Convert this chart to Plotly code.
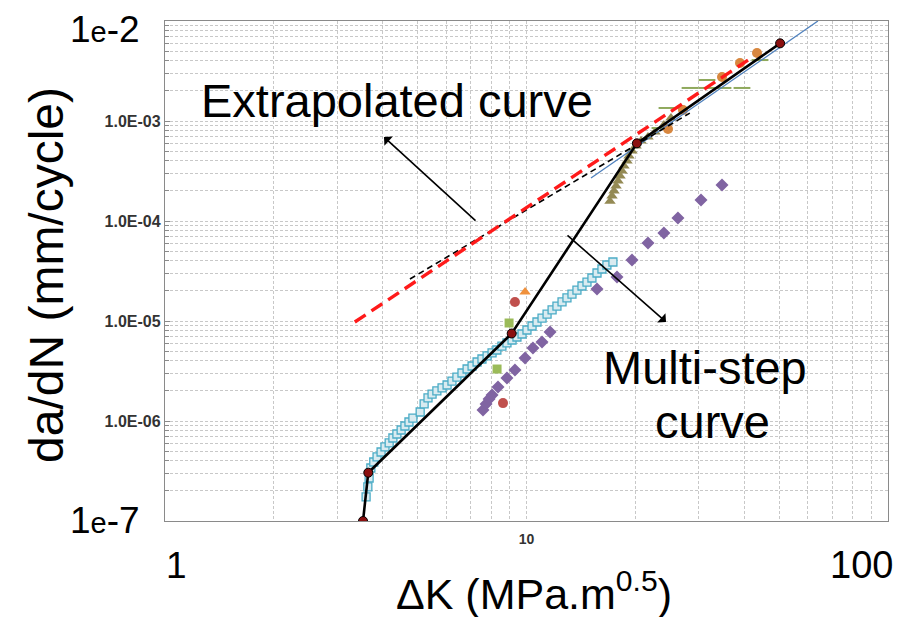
import plotly.graph_objects as go

# ---------------- data ----------------
multi_x = [3.53, 3.65, 9.1, 20.2, 50.3]
multi_y = [1e-7, 3.04e-7, 7.5e-6, 5.98e-4, 5.98e-3]

extrap_red_x = [3.35, 41.0]
extrap_red_y = [9.77e-6, 4.07e-3]

extrap_black_x = [4.76, 28.3]
extrap_black_y = [2.63e-5, 1.20e-3]

blue_x = [15.08, 64.0]
blue_y = [2.69e-4, 1.0e-2]

teal_x = [3.60, 3.64, 3.67, 3.71, 3.78, 3.86, 3.96, 4.06, 4.17, 4.27, 4.38, 4.50,
          4.61, 4.73, 4.85, 5.08, 5.21, 5.34, 5.48, 5.65, 5.84, 6.03, 6.22, 6.42,
          6.63, 6.85, 7.07, 7.30, 7.53, 7.78, 8.03, 8.28, 8.55, 8.83, 9.12, 9.41,
          9.72, 10.03, 10.36, 10.69, 11.04, 11.40, 11.77, 12.14, 12.54, 12.94,
          13.36, 13.79, 14.24, 14.70, 15.17, 15.67, 16.17, 16.69, 17.34]
teal_y = [1.74e-7, 2.19e-7, 2.69e-7, 3.39e-7, 3.89e-7, 4.37e-7, 4.90e-7, 5.50e-7,
          6.03e-7, 6.76e-7, 7.41e-7, 8.13e-7, 8.91e-7, 9.77e-7, 1.07e-6, 1.23e-6,
          1.48e-6, 1.70e-6, 1.86e-6, 2.00e-6, 2.14e-6, 2.29e-6, 2.51e-6, 2.75e-6,
          3.02e-6, 3.31e-6, 3.55e-6, 3.89e-6, 4.17e-6, 4.47e-6, 4.79e-6, 5.13e-6,
          5.62e-6, 6.03e-6, 6.46e-6, 6.92e-6, 7.41e-6, 8.13e-6, 8.91e-6, 9.77e-6,
          1.07e-5, 1.17e-5, 1.29e-5, 1.41e-5, 1.55e-5, 1.70e-5, 1.86e-5, 2.04e-5,
          2.24e-5, 2.45e-5, 2.69e-5, 3.02e-5, 3.31e-5, 3.63e-5, 3.89e-5]

purple_x = [7.58, 7.73, 7.88, 8.03, 8.34, 8.83, 9.29, 9.91, 10.42, 11.04, 11.62,
            15.67, 17.80, 19.58, 21.68, 23.99, 26.24, 30.39, 34.74]
purple_y = [1.29e-6, 1.48e-6, 1.66e-6, 1.82e-6, 2.19e-6, 2.69e-6, 3.24e-6, 4.27e-6,
            5.37e-6, 6.17e-6, 7.76e-6, 2.09e-5, 2.75e-5, 4.07e-5, 6.03e-5, 7.59e-5,
            1.07e-4, 1.62e-4, 2.29e-4]

olive_x = [17.02, 17.24, 17.46, 17.69, 17.92, 18.15, 18.37, 18.61, 18.97, 19.21,
           19.58, 20.09, 20.74, 21.68, 22.68, 23.99, 25.10]
olive_y = [1.58e-4, 1.78e-4, 2.00e-4, 2.24e-4, 2.51e-4, 2.82e-4, 3.16e-4, 3.55e-4,
           3.98e-4, 4.47e-4, 5.01e-4, 5.62e-4, 6.31e-4, 6.92e-4, 7.76e-4, 9.12e-4,
           1.07e-3]

orange_x = [24.63, 27.10, 34.74, 38.96, 43.42]
orange_y = [8.32e-4, 1.29e-3, 2.75e-3, 3.80e-3, 4.79e-3]

orange_tri_x = [9.91]
orange_tri_y = [1.95e-5]

red_x = [9.29, 8.61]
red_y = [1.55e-5, 1.51e-6]

green_sq_x = [8.95, 8.29]
green_sq_y = [9.55e-6, 3.31e-6]

green_dash_x = [28.34, 31.57, 34.96, 39.45, 31.57, 24.47, 26.59, 23.4, 44.26]
green_dash_y = [2.14e-3, 2.14e-3, 2.14e-3, 2.14e-3, 2.57e-3, 1.35e-3, 1.35e-3, 8.51e-4, 4.07e-3]

y_ticks = [1e-6, 1e-5, 1e-4, 1e-3]
y_ticktext = ["1.0E-06", "1.0E-05", "1.0E-04", "1.0E-03"]
x_ticks = [10]
x_ticktext = ["10"]

# ---------------- figure ----------------
fig = go.Figure()

fig.add_trace(go.Scatter(x=teal_x, y=teal_y, mode="markers",
                         marker=dict(symbol="square", size=8, color="#d9ebf0",
                                     line=dict(color="#4BACC6", width=1.3))))
fig.add_trace(go.Scatter(x=purple_x, y=purple_y, mode="markers",
                         marker=dict(symbol="diamond", size=10, color="#8064A2")))
fig.add_trace(go.Scatter(x=olive_x, y=olive_y, mode="markers",
                         marker=dict(symbol="triangle-up", size=10, color="#948A54")))
fig.add_trace(go.Scatter(x=green_dash_x, y=green_dash_y, mode="markers",
                         marker=dict(symbol="line-ew", size=12,
                                     line=dict(color="#8FA95C", width=2))))
fig.add_trace(go.Scatter(x=orange_x, y=orange_y, mode="markers",
                         marker=dict(symbol="circle", size=10, color="#D8873F")))
fig.add_trace(go.Scatter(x=orange_tri_x, y=orange_tri_y, mode="markers",
                         marker=dict(symbol="triangle-up", size=10, color="#F0913C")))
fig.add_trace(go.Scatter(x=red_x, y=red_y, mode="markers",
                         marker=dict(symbol="circle", size=10, color="#C0504D")))
fig.add_trace(go.Scatter(x=green_sq_x, y=green_sq_y, mode="markers",
                         marker=dict(symbol="square", size=9, color="#9BBB59")))
fig.add_trace(go.Scatter(x=blue_x, y=blue_y, mode="lines",
                         line=dict(color="#4F81BD", width=1.3)))
fig.add_trace(go.Scatter(x=extrap_black_x, y=extrap_black_y, mode="lines",
                         line=dict(color="black", width=1.6, dash="6px,4px")))
fig.add_trace(go.Scatter(x=extrap_red_x, y=extrap_red_y, mode="lines",
                         line=dict(color="#FF1A1A", width=3.4, dash="13px,7px")))
fig.add_trace(go.Scatter(x=multi_x, y=multi_y, mode="lines+markers",
                         line=dict(color="black", width=2.6),
                         marker=dict(symbol="circle", size=9, color="#8B1010",
                                     line=dict(color="black", width=1))))

grid = dict(showgrid=True, gridcolor="#c8c8c8", gridwidth=1, griddash="3px,2px")

x_minor = [m * 10 ** d for d in range(0, 2) for m in range(2, 10)]
y_minor = [m * 10.0 ** d for d in range(-7, -2) for m in range(2, 10)]

tickfont = dict(family="Arial, Liberation Sans", size=16, color="#333333",
                weight="bold")

fig.update_xaxes(type="log", range=[0, 2], tickmode="array", tickvals=x_ticks,
                 ticktext=x_ticktext, ticks="", showline=True, linecolor="#8a8a8a",
                 linewidth=1.3, mirror=True, zeroline=False,
                 tickfont=dict(tickfont, size=14), ticklabelstandoff=5,
                 minor=dict(tickmode="array", tickvals=x_minor, showgrid=True,
                            gridcolor="#c8c8c8", griddash="3px,2px", ticks=""),
                 **grid)
fig.update_yaxes(type="log", range=[-7, -2], tickmode="array", tickvals=y_ticks,
                 ticktext=y_ticktext, ticks="inside", ticklen=5, tickcolor="#8a8a8a",
                 showline=True, linecolor="#8a8a8a", linewidth=1.3, mirror=True,
                 zeroline=False, tickfont=tickfont,
                 minor=dict(tickmode="array", tickvals=y_minor, showgrid=True,
                            gridcolor="#c8c8c8", griddash="3px,2px", ticks="inside",
                            ticklen=4, tickcolor="#8a8a8a"),
                 **grid)

big = dict(family="Liberation Sans, Arial", size=47, color="black")
axbig = dict(family="Liberation Sans, Arial", size=37, color="black")

annotations = [
    dict(text="Extrapolated curve", x=(397 - 165) / 723, y=(521 - 100) / 500,
         font=big),
    dict(text="Multi-step", x=(705 - 165) / 723, y=(521 - 367) / 500, font=big),
    dict(text="curve", x=(712 - 165) / 723, y=(521 - 421) / 500, font=big),
    dict(text="1<span style='font-size:29px'>e</span>-2", x=(105 - 165) / 723,
         y=(521 - 29) / 500, font=axbig),
    dict(text="1<span style='font-size:29px'>e</span>-7", x=(105 - 165) / 723,
         y=(521 - 520) / 500, font=axbig),
    dict(text="1", x=(176 - 165) / 723, y=(521 - 565) / 500, font=axbig),
    dict(text="100", x=(861 - 165) / 723, y=(521 - 565) / 500,
         font=dict(axbig, size=38)),
    dict(text="ΔK (MPa.m<sup>0.5</sup>)", x=(534 - 165) / 723, y=(521 - 591) / 500,
         font=dict(family="Liberation Sans, Arial", size=43, color="black")),
    dict(text="da/dN (mm/cycle)", x=(46 - 165) / 723, y=(521 - 275) / 500,
         textangle=-90, font=dict(family="Liberation Sans, Arial", size=48,
                                   color="black")),
]
for a in annotations:
    a.update(xref="paper", yref="paper", showarrow=False, xanchor="center",
             yanchor="middle")
    fig.add_annotation(**a)

# arrows
fig.add_annotation(xref="paper", yref="paper", x=(384 - 165) / 723, y=(521 - 137) / 500,
                   ax=93, ay=85, showarrow=True, arrowhead=1, arrowsize=1.3,
                   arrowwidth=1.6, arrowcolor="black", text="")
fig.add_annotation(xref="paper", yref="paper", x=(666 - 165) / 723, y=(521 - 322) / 500,
                   ax=-100, ay=-88, showarrow=True, arrowhead=1, arrowsize=1.3,
                   arrowwidth=1.6, arrowcolor="black", text="")

# white label boxes that hide the grid
fig.add_shape(type="rect", xref="paper", yref="paper", layer="between",
              x0=(203 - 165) / 723, x1=(620 - 165) / 723,
              y0=(521 - 160) / 500, y1=(521 - 57) / 500,
              fillcolor="white", line=dict(width=0))
fig.add_shape(type="rect", xref="paper", yref="paper", layer="between",
              x0=(168 - 165) / 723, x1=(204 - 165) / 723,
              y0=(521 - 133) / 500, y1=(521 - 57) / 500,
              fillcolor="white", line=dict(width=0))
fig.add_shape(type="rect", xref="paper", yref="paper", layer="between",
              x0=(582 - 165) / 723, x1=(843 - 165) / 723,
              y0=(521 - 460) / 500, y1=(521 - 323) / 500,
              fillcolor="white", line=dict(width=0))

# the page adds an 8px body margin, so the figure is 8px smaller and shifted
fig.update_layout(width=908, height=609, margin=dict(l=157, r=28, t=13, b=96),
                  plot_bgcolor="white", paper_bgcolor="white", showlegend=False)

fig.write_html("out.html")
